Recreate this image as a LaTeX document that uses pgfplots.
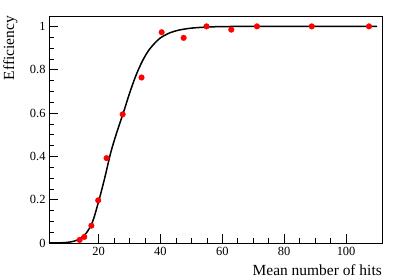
\documentclass[border=0pt]{standalone}
\usepackage{pgfplots}
\pgfplotsset{compat=1.18}
\usepackage{fontspec}
\setmainfont{Liberation Serif}
\begin{document}
\begin{tikzpicture}[x=1bp,y=1bp]
\path (0,0) rectangle (415,279);
\begin{axis}[
  at={(49bp,36bp)}, anchor=south west,
  scale only axis, width=333bp, height=227bp,
  xmin=4, xmax=111.6, ymin=0, ymax=1.048,
  axis line style={black, line width=0.8bp},
  tick align=inside, xtick pos=bottom, ytick pos=left,
  xtick={20,40,60,80,100}, xticklabels={20,40,60,80,100}, minor x tick num=3,
  ytick={0,0.2,0.4,0.6,0.8,1}, yticklabels={0,0.2,0.4,0.6,0.8,1}, minor y tick num=3,
  major tick length=9bp, minor tick length=4.5bp,
  tick style={black, line width=0.6bp},
  /pgf/number format/assume math mode=true,
  ticklabel style={font=\rmfamily\fontsize{12.5}{14}\selectfont},
  xticklabel style={yshift=-1bp},
  clip=false,
]
\addplot[black, line width=1.5bp, smooth, tension=0.5] coordinates {
(4,0) (8,0.001) (10,0.003) (12,0.008) (14,0.02) (16,0.045) (18,0.095)
(20,0.19) (22,0.30) (24,0.42) (26,0.515) (28,0.60) (30,0.69) (32,0.77)
(34,0.835) (36,0.885) (38,0.92) (40,0.947) (43,0.97) (46,0.983) (50,0.992)
(55,0.997) (60,0.999) (70,1.0) (110,1.0)
};
\addplot[only marks, mark=*, mark size=2.8bp, color=red, mark options={draw=red, fill=red}] coordinates {
(13.9,0.014) (15.4,0.028) (17.7,0.08) (19.9,0.197) (22.6,0.392)
(27.8,0.594) (33.9,0.764) (40.4,0.973) (47.5,0.947) (54.9,1.0)
(62.9,0.985) (71.2,1.0) (88.9,1.0) (107.4,1.0)
};
\end{axis}
\node[anchor=base east, font=\fontsize{15.5}{17}\selectfont, inner sep=0pt] at (382,4) {Mean number of hits};
\node[anchor=base east, rotate=90, font=\fontsize{15.5}{17}\selectfont, inner sep=0pt] at (14,263) {Efficiency};
\end{tikzpicture}
\end{document}
